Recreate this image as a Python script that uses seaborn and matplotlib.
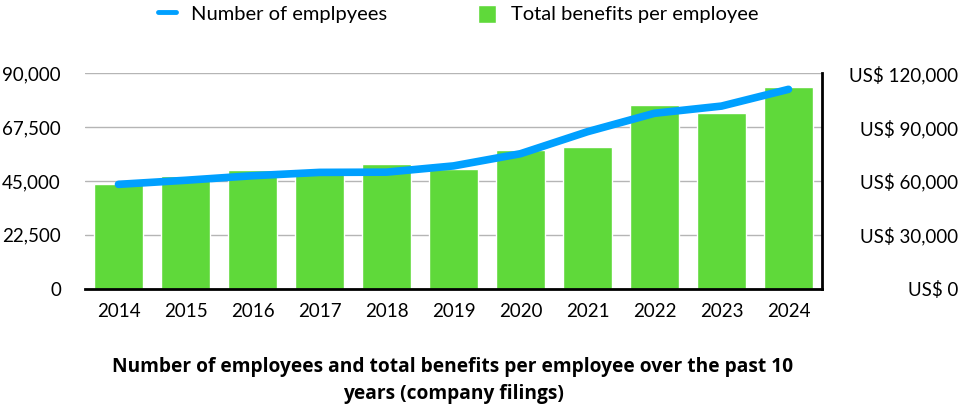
import matplotlib
matplotlib.use("Agg")
import matplotlib.pyplot as plt
import seaborn as sns
import pandas as pd

years = ["2014", "2015", "2016", "2017", "2018", "2019", "2020", "2021", "2022", "2023", "2024"]
employees = [43600, 45300, 47200, 48600, 48700, 51300, 56400, 65600, 73300, 76300, 83300]
benefits = [58300, 62800, 66100, 66700, 69500, 66700, 77300, 78900, 102300, 97900, 112400]

left_ticks = [0, 22500, 45000, 67500, 90000]
right_ticks = [0, 30000, 60000, 90000, 120000]

GREEN = "#5fd93a"
BLUE = "#00a0ff"
FS = 13.5

df = pd.DataFrame({"year": years, "employees": employees, "benefits": benefits})

sns.set_theme(style="white")
plt.rcParams["font.family"] = ["Lato", "DejaVu Sans"]
plt.rcParams["text.color"] = "black"

fig = plt.figure(figsize=(9.62, 4.18), dpi=100)
ax2 = fig.add_axes([85 / 962, 1 - 288.7 / 418, (822 - 85) / 962, (288.7 - 73.3) / 418])
ax = ax2.twinx()
# line axis above the bars, bars axis carries the grid
ax.set_zorder(ax2.get_zorder() + 1)
ax.patch.set_visible(False)

# bars -> right axis (US$), line -> left axis (employees)
sns.barplot(data=df, x="year", y="benefits", color=GREEN, width=0.72,
            saturation=1, ax=ax2, label="Total benefits per employee")
sns.lineplot(data=df, x="year", y="employees", color=BLUE, linewidth=5.5,
             ax=ax, label="Number of emplpyees", legend=False)
if ax2.get_legend() is not None:
    ax2.get_legend().remove()

ax2.set_xlim(-0.5, len(years) - 0.5)
ax2.set_ylim(0, 120000)
ax.set_ylim(0, 90000)

# twinx puts the first axis on the left; move things around
ax2.yaxis.tick_right()
ax.yaxis.tick_left()
ax2.set_yticks(right_ticks)
ax2.set_yticklabels([f"US$ {v:,}" for v in right_ticks], ha="right")
ax.set_yticks(left_ticks)
ax.set_yticklabels([f"{v:,}" for v in left_ticks])
ax2.tick_params(axis="y", which="both", length=0, pad=97.9, labelsize=FS, labelcolor="black",
                right=True, left=False, labelright=True, labelleft=False)
ax.tick_params(axis="y", which="both", length=0, pad=17.3, labelsize=FS, labelcolor="black",
               left=True, right=False, labelleft=True, labelright=False)
ax2.tick_params(axis="x", length=0, pad=10, labelsize=FS, labelcolor="black")
ax.tick_params(axis="x", length=0, labelbottom=False)

ax2.yaxis.grid(True, color="#b5b5b5", linewidth=1)
ax2.set_axisbelow(True)
ax.grid(False)
ax2.set_xlabel("")
ax2.set_ylabel("")
ax.set_xlabel("")
ax.set_ylabel("")

for a in (ax, ax2):
    for side in ("top", "left", "right", "bottom"):
        a.spines[side].set_visible(False)
ax2.spines["bottom"].set_visible(True)
ax2.spines["bottom"].set_color("black")
ax2.spines["bottom"].set_linewidth(2)
ax2.spines["right"].set_visible(True)
ax2.spines["right"].set_color("black")
ax2.spines["right"].set_linewidth(2)

h1, l1 = ax.get_legend_handles_labels()
h2, l2 = ax2.get_legend_handles_labels()
leg = fig.legend(h1 + h2, l1 + l2, loc="center", bbox_to_anchor=(458 / 962, 1 - 14 / 418),
                 ncol=2, frameon=False, prop={"size": 14.5}, handlelength=0.9, handleheight=1.0,
                 handletextpad=0.75, columnspacing=4.5, borderpad=0, labelcolor="black")
leg.get_lines()[0].set_linewidth(3.5)

fig.text(453 / 962, 1 - 357 / 418,
         "Number of employees and total benefits per employee over the past 10\nyears (company filings)",
         ha="center", va="top", fontsize=13.8, fontweight="bold", linespacing=1.45,
         color="black", family=["Open Sans", "DejaVu Sans"])

fig.savefig("out.png", dpi=100)
